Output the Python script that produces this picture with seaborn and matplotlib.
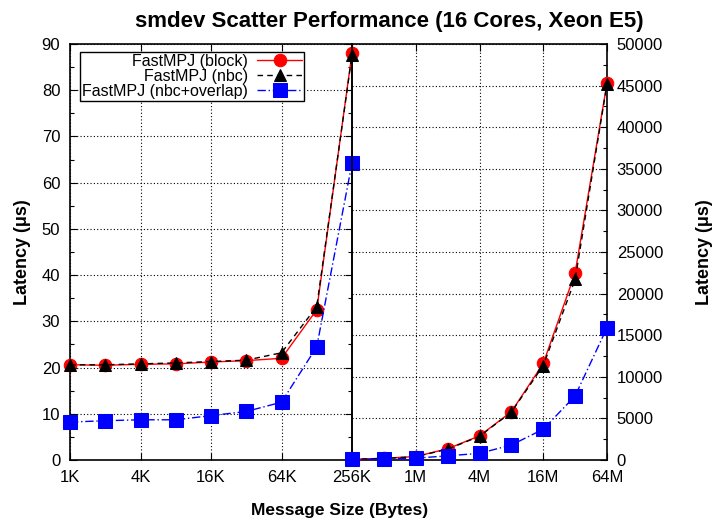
import matplotlib
matplotlib.use("Agg")
import matplotlib.pyplot as plt
from matplotlib.ticker import FixedLocator, NullLocator, MultipleLocator
import seaborn as sns
import pandas as pd

sns.set_theme(style="white")
plt.rcParams['font.family'] = ['Liberation Sans', 'DejaVu Sans']

# Message sizes (bytes)
sizes_small = [1024, 2048, 4096, 8192, 16384, 32768, 65536, 131072, 262144]
sizes_large = [262144, 524288, 1048576, 2097152, 4194304, 8388608, 16777216, 33554432, 67108864]

# Latency (us), small messages
block_small = [20.6, 20.5, 20.7, 20.8, 21.2, 21.5, 22.0, 32.5, 88.0]
nbc_small = [20.6, 20.6, 20.8, 21.0, 21.3, 21.6, 23.2, 33.2, 87.6]
overlap_small = [8.2, 8.5, 8.7, 8.7, 9.6, 10.5, 12.5, 24.5, 64.2]

# Latency (us), large messages
block_large = [88, 200, 420, 1350, 2900, 5800, 11600, 22500, 45300]
nbc_large = [88, 190, 400, 1300, 2850, 5750, 11350, 21700, 45200]
overlap_large = [64, 90, 220, 500, 800, 1800, 3700, 7700, 15900]

series_names = ["FastMPJ (block)", "FastMPJ (nbc)", "FastMPJ (nbc+overlap)"]
colors = ["#ff0000", "#000000", "#0000ff"]
markers = ["o", "^", "s"]
msizes = [9, 8, 9.5]
dashes = [None, (4, 3), (6, 2, 1, 2)]

small_ticks = [1024, 4096, 16384, 65536, 262144]
small_labels = ["1K", "4K", "16K", "64K", "256K"]
large_ticks = [1048576, 4194304, 16777216, 67108864]
large_labels = ["1M", "4M", "16M", "64M"]

fig = plt.figure(figsize=(7.15, 5.23), dpi=100)
fig.patch.set_facecolor("white")
W, H = 715, 523
ax1 = fig.add_axes([70 / W, 1 - 460 / H, 282 / W, 416 / H])
ax2 = fig.add_axes([352 / W, 1 - 460 / H, 255 / W, 416 / H])
ax1.set_facecolor("white")
ax2.set_facecolor("none")

def draw(ax, x, ys):
    for name, y, c, m, ms, d in zip(series_names, ys, colors, markers, msizes, dashes):
        df = pd.DataFrame({"size": x, "lat": y})
        sns.lineplot(data=df, x="size", y="lat", ax=ax, color=c, marker=m,
                     markersize=ms, markeredgecolor=c, linewidth=1.0,
                     label=name, legend=False)
        ln = ax.get_lines()[-1]
        ln.set_clip_on(False)
        ln.set_zorder(3)
        if d is not None:
            ln.set_dashes(d)

draw(ax1, sizes_small, [block_small, nbc_small, overlap_small])
draw(ax2, sizes_large, [block_large, nbc_large, overlap_large])
if ax2.get_legend() is not None:
    ax2.get_legend().remove()

for ax in (ax1, ax2):
    ax.set_xscale("log", base=2)
    ax.grid(True, which="major", color="black", linestyle=(0, (1, 2)), linewidth=0.8)
    for sp in ax.spines.values():
        sp.set_color("black")
        sp.set_linewidth(1.2)
    ax.set_xlabel("")
    ax.set_ylabel("")
    ax.xaxis.set_minor_locator(NullLocator())

ax1.set_xlim(1024, 262144)
ax1.set_ylim(0, 90)
ax1.xaxis.set_major_locator(FixedLocator(small_ticks))
ax1.set_xticklabels(small_labels)
ax1.yaxis.set_major_locator(MultipleLocator(10))
ax1.yaxis.set_minor_locator(MultipleLocator(5))
ax1.tick_params(axis="both", which="both", direction="in", top=True, right=True,
                bottom=True, left=True, labelsize=12, colors="black", pad=7)
ax1.tick_params(which="major", length=5, width=0.8)
ax1.tick_params(which="minor", length=3, width=0.8)

ax2.set_xlim(262144, 67108864)
ax2.set_ylim(0, 50000)
ax2.xaxis.set_major_locator(FixedLocator(large_ticks))
ax2.set_xticklabels(large_labels)
ax2.yaxis.set_major_locator(MultipleLocator(5000))
ax2.yaxis.set_minor_locator(MultipleLocator(2500))
ax2.yaxis.tick_right()
ax2.yaxis.set_label_position("right")
ax2.tick_params(axis="both", which="both", direction="in", top=True, right=True,
                left=False, bottom=True, labelsize=12, colors="black", pad=7)
ax2.tick_params(which="major", length=5, width=0.8)
ax2.tick_params(which="minor", length=3, width=0.8)
ax2.tick_params(axis="y", labelleft=False, labelright=True)

for t in ax1.get_xticklabels() + ax1.get_yticklabels() + ax2.get_xticklabels() + ax2.get_yticklabels():
    t.set_color("black")

ax1.set_ylabel("Latency (\u03bcs)", fontsize=13, fontweight="bold", color="black", labelpad=8)
ax2.set_ylabel("Latency (\u03bcs)", fontsize=13, fontweight="bold", color="black", labelpad=24)
fig.text(340 / W, 1 - 510 / H, "Message Size (Bytes)", ha="center", va="center",
         fontsize=12.5, fontweight="bold", color="black")
fig.text(389 / W, 1 - 21 / H, "smdev Scatter Performance (16 Cores, Xeon E5)", ha="center",
         va="center", fontsize=16, fontweight="bold", color="black")

leg = ax1.legend(loc="upper left", bbox_to_anchor=(0.035, 0.981), markerfirst=False,
                 fontsize=11.5, frameon=True, fancybox=False, edgecolor="black",
                 framealpha=1, handlelength=2.8, handletextpad=0.6, labelspacing=0.0,
                 borderpad=0.12, borderaxespad=0)
leg.set_zorder(5)
leg.get_frame().set_linewidth(1.0)
for t in leg.get_texts():
    t.set_color("black")

fig.savefig("out.png", dpi=100, facecolor="white")
